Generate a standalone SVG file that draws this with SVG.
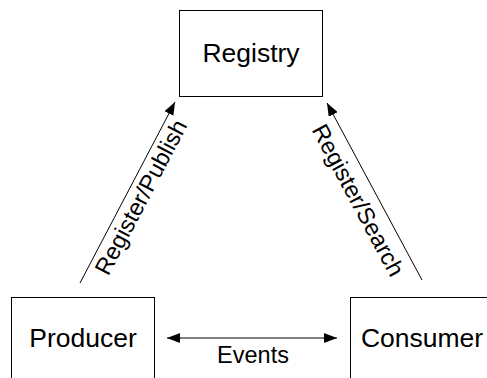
<svg xmlns="http://www.w3.org/2000/svg" width="487" height="378" viewBox="0 0 487 378">
<defs>
<style>
.box{fill:#fff;stroke:#000;stroke-width:1}
.lbl{font-family:"Liberation Sans",Arial,sans-serif;font-size:26.5px;fill:#000;text-anchor:middle}
.el{font-family:"Liberation Sans",Arial,sans-serif;font-size:23.5px;fill:#000;text-anchor:middle}
.ln{stroke:#000;stroke-width:1;fill:none}
</style>
<marker id="ah" viewBox="0 0 13 10" refX="13" refY="5" markerWidth="13" markerHeight="10" markerUnits="userSpaceOnUse" orient="auto-start-reverse">
<path d="M0,0 L13,5 L0,10 z" fill="#000"/>
</marker>
</defs>
<g id="registry"><rect class="box" x="179.5" y="10.5" width="143" height="86"/><text class="lbl" x="251" y="62">Registry</text></g>
<g id="producer"><rect class="box" x="11.5" y="297.5" width="143" height="90"/><text class="lbl" x="83" y="347">Producer</text></g>
<g id="consumer"><rect class="box" x="350.5" y="297.5" width="143" height="90"/><text class="lbl" x="422" y="347">Consumer</text></g>
<g id="connectors">
<line class="ln" x1="80" y1="283" x2="175" y2="102" marker-end="url(#ah)"/>
<line class="ln" x1="422" y1="280" x2="327" y2="103" marker-end="url(#ah)"/>
<line class="ln" x1="167" y1="338" x2="337" y2="338" marker-start="url(#ah)" marker-end="url(#ah)"/>
<text class="el" x="148" y="201" transform="rotate(-62.3 148 201)">Register/Publish</text>
<text class="el" x="351" y="204" transform="rotate(61.8 351 204)">Register/Search</text>
<text class="el" x="253" y="363">Events</text>
</g>
</svg>
